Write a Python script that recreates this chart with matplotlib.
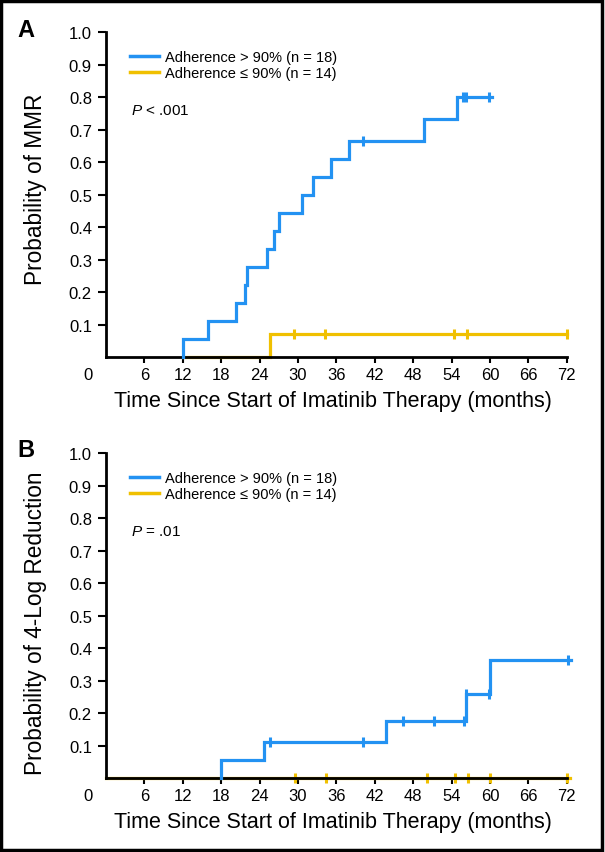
import numpy as np
import matplotlib.pyplot as plt
from matplotlib.patches import Rectangle

plt.rcParams['font.family'] = ['Liberation Sans', 'DejaVu Sans']
plt.rcParams['mathtext.fontset'] = 'custom'
plt.rcParams['mathtext.rm'] = 'Liberation Sans'
plt.rcParams['mathtext.it'] = 'Liberation Sans:italic'

BLUE = '#2392f2'
GOLD = '#f0c000'

# panel A: probability of MMR
a_hi_times = [12, 12, 16, 20.3, 21.7, 22.1, 25.1, 26.3, 27.0, 30.6, 32.4, 35.1, 37.9, 49.7, 54.8, 60.3]
a_hi_prob = [0, 1/18, 2/18, 3/18, 4/18, 5/18, 6/18, 7/18, 8/18, 9/18, 10/18, 11/18, 12/18, 0.733, 0.80, 0.80]
a_hi_cens = [40.1, 55.8, 56.2, 59.8]
a_lo_times = [12, 25.7, 72]
a_lo_prob = [0, 1/14, 1/14]
a_lo_cens = [29.4, 34.3, 54.4, 56.4, 72]

# panel B: probability of 4-log reduction
b_hi_times = [18, 18, 24.7, 43.7, 56.2, 60.05, 72.7]
b_hi_prob = [0, 1/18, 2/18, 0.175, 0.258, 0.364, 0.364]
b_hi_cens = [25.6, 40.2, 46.4, 51.2, 56.0, 56.3, 59.9, 72.2]
b_lo_times = [0, 72.5]
b_lo_prob = [0, 0]
b_lo_cens = [29.5, 34.4, 50.1, 54.6, 56.5, 60, 72]

x_ticks = list(range(6, 73, 6))
y_ticks = [0.1, 0.2, 0.3, 0.4, 0.5, 0.6, 0.7, 0.8, 0.9, 1.0]
labels = ['Adherence > 90% (n = 18)', 'Adherence \u2264 90% (n = 14)']


def step_at(times, prob, t):
    i = np.searchsorted(times, t, side='right') - 1
    return np.asarray(prob)[i]


def km(ax, times, prob, cens, color, z):
    ax.step(times, prob, where='post', color=color, lw=2.3, clip_on=False,
            zorder=z, solid_joinstyle='miter')
    ax.plot(cens, step_at(times, prob, cens), ls='none', marker='|', ms=7,
            mew=2.2, color=color, clip_on=False, zorder=z)


def panel(ax, hi, lo, ylabel, ylab_y, ptext):
    km(ax, *lo, GOLD, 2)
    km(ax, *hi, BLUE, 4)
    ax.set_xlim(0, 72)
    ax.set_ylim(0, 1.0)
    ax.set_xticks(x_ticks)
    ax.set_yticks(y_ticks)
    ax.set_yticklabels(['%.1f' % v for v in y_ticks])
    for s in ['top', 'right']:
        ax.spines[s].set_visible(False)
    for s in ['left', 'bottom']:
        ax.spines[s].set_linewidth(2)
        ax.spines[s].set_zorder(3)
    ax.tick_params(axis='x', length=4, width=1.5, pad=3, labelsize=12)
    ax.tick_params(axis='y', length=6, width=1.5, pad=4, labelsize=12)
    ax.annotate('0', xy=(0, 0), xycoords='data', xytext=(-13, -7),
                textcoords='offset points', ha='center', va='top', fontsize=12)
    ax.set_xlabel('Time Since Start of Imatinib Therapy (months)', fontsize=15.5)
    ax.xaxis.set_label_coords(0.492, -0.102)
    ax.set_ylabel(ylabel, fontsize=16.3)
    ax.yaxis.set_label_coords(-0.128, ylab_y)
    hb, = ax.plot([], [], color=BLUE, lw=2.5)
    hl, = ax.plot([], [], color=GOLD, lw=2.5)
    ax.legend([hb, hl], labels, loc='upper left', bbox_to_anchor=(0.053, 0.945),
              frameon=False, fontsize=10.5, handlelength=2.0, handletextpad=0.4,
              labelspacing=0.15, borderpad=0, borderaxespad=0)
    ax.text(0.054, 0.76, ptext, transform=ax.transAxes, fontsize=11,
            va='center', ha='left')


fig = plt.figure(figsize=(6.05, 8.53), dpi=100)
axA = fig.add_axes([0.175, 0.580, 0.762, 0.381])
axB = fig.add_axes([0.175, 0.0866, 0.762, 0.381])

panel(axA, (a_hi_times, a_hi_prob, a_hi_cens), (a_lo_times, a_lo_prob, a_lo_cens),
      'Probability of MMR', 0.52, r'$P$ < .001')
panel(axB, (b_hi_times, b_hi_prob, b_hi_cens), (b_lo_times, b_lo_prob, b_lo_cens),
      'Probability of 4-Log Reduction', 0.48, r'$P$ = .01')

fig.text(17 / 605, 1 - 37 / 853, 'A', fontsize=17, fontweight='bold', va='baseline')
fig.text(17 / 605, 1 - 457 / 853, 'B', fontsize=17, fontweight='bold', va='baseline')

fig.patches.append(Rectangle((0.002, 0.002), 0.993, 0.996, transform=fig.transFigure,
                             fill=False, lw=2.5, edgecolor='black'))

fig.savefig('out.png', dpi=100)
